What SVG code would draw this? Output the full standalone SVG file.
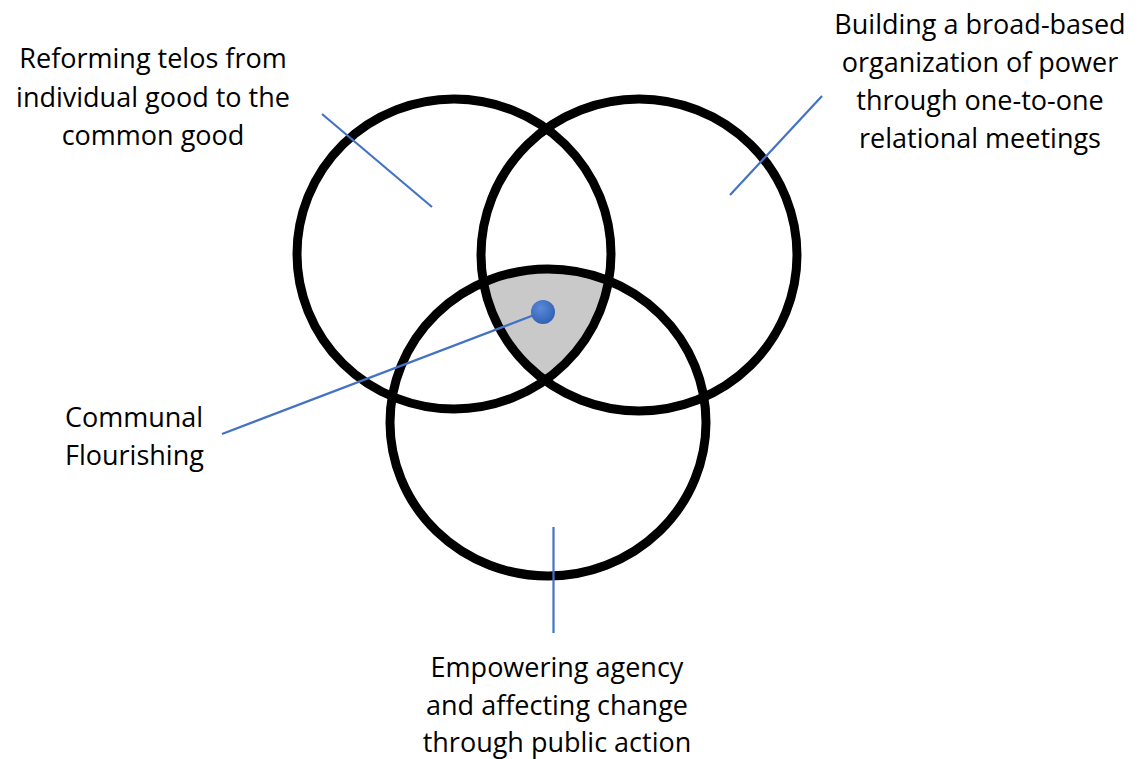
<svg xmlns="http://www.w3.org/2000/svg" width="1146" height="759" viewBox="0 0 1146 759">
<style>
.ring{fill:none;stroke:#000;stroke-width:9}
.lbl{font-family:"Open Sans","Liberation Sans",sans-serif;font-size:27px;fill:#000}
.c{text-anchor:middle}
.ln{stroke:#4472C4;stroke-width:2.2;fill:none}
</style>
<defs>
<clipPath id="cl"><ellipse cx="454" cy="254" rx="157" ry="155"/></clipPath>
<clipPath id="cr"><ellipse cx="639" cy="255" rx="158" ry="156"/></clipPath>
<radialGradient id="dot" cx="0.4" cy="0.35" r="0.7">
<stop offset="0" stop-color="#5b8ad8"/><stop offset="1" stop-color="#2f5fb3"/>
</radialGradient>
</defs>
<rect width="1146" height="759" fill="#fff"/>
<g id="center-region" clip-path="url(#cl)">
<g clip-path="url(#cr)">
<ellipse cx="548" cy="422.5" rx="158" ry="153.5" fill="#c9c9c9"/>
</g>
</g>
<g id="circle-left"><ellipse class="ring" cx="454" cy="254" rx="157" ry="155"/></g>
<g id="circle-right"><ellipse class="ring" cx="639" cy="255" rx="158" ry="156"/></g>
<g id="circle-bottom"><ellipse class="ring" cx="548" cy="422.5" rx="158" ry="153.5"/></g>
<g id="connectors">
<line class="ln" x1="322" y1="114" x2="432" y2="207"/>
<line class="ln" x1="822" y1="96" x2="730" y2="195"/>
<line class="ln" x1="553.5" y1="527" x2="553.5" y2="633" stroke-width="3"/>
<line class="ln" x1="222" y1="434" x2="542" y2="312"/>
</g>
<g id="dot"><circle cx="543" cy="312" r="12" fill="url(#dot)"/></g>
<g id="label-telos">
<text class="lbl c" x="153" y="68">Reforming telos from</text>
<text class="lbl c" x="153" y="107">individual good to the</text>
<text class="lbl c" x="153" y="145">common good</text>
</g>
<g id="label-organization">
<text class="lbl c" x="980" y="34">Building a broad-based</text>
<text class="lbl c" x="980" y="72">organization of power</text>
<text class="lbl c" x="980" y="110">through one-to-one</text>
<text class="lbl c" x="980" y="148">relational meetings</text>
</g>
<g id="label-communal">
<text class="lbl" x="65" y="427">Communal</text>
<text class="lbl" x="65" y="465">Flourishing</text>
</g>
<g id="label-agency">
<text class="lbl c" x="557" y="677">Empowering agency</text>
<text class="lbl c" x="557" y="715">and affecting change</text>
<text class="lbl c" x="557" y="752">through public action</text>
</g>
</svg>
